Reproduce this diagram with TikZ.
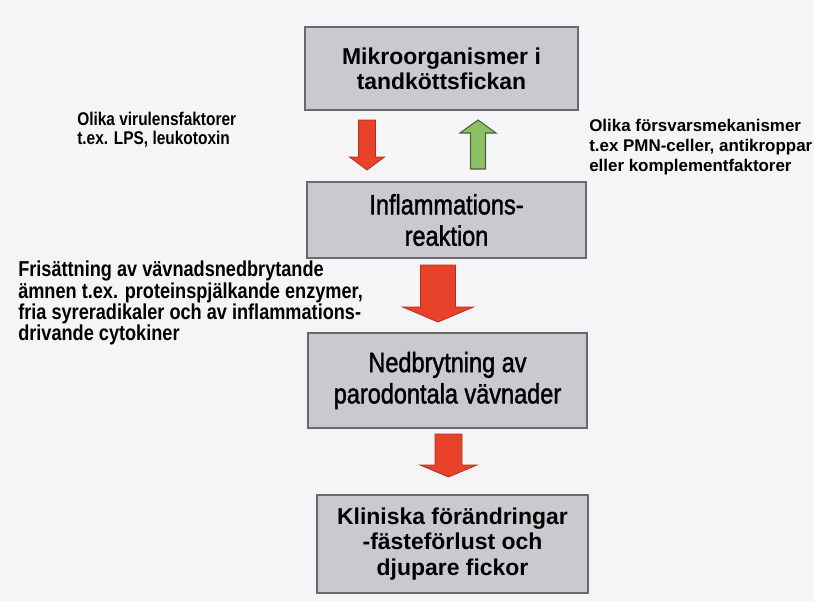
\documentclass[tikz,border=0pt]{standalone}
\usepackage{fontspec}
\setmainfont{Liberation Sans}
\newfontfamily\condfont[FakeStretch=0.84]{Liberation Sans}
\newfontfamily\condmed[FakeStretch=0.84, FakeBold=1.4]{Liberation Sans}
\usetikzlibrary{calc}
\definecolor{boxgray}{RGB}{201,201,207}
\definecolor{boxedge}{RGB}{105,105,108}
\definecolor{arrred}{RGB}{232,66,42}
\definecolor{arrrededge}{RGB}{175,48,32}
\definecolor{arrgreen}{RGB}{141,192,99}
\definecolor{arrgreenedge}{RGB}{72,100,58}
\definecolor{paper}{RGB}{245,245,247}
\def\px{0.75pt}
\tikzset{
    stage/.style={
        rectangle, draw=boxedge, line width=1.1pt, fill=boxgray,
        align=center, inner sep=0pt
    },
    stagebold/.style={stage, font=\bfseries\fontsize{17.2}{19}\selectfont},
    stagecond/.style={stage, font=\condmed\fontsize{21}{23.5}\selectfont},
    note/.style={anchor=north west, inner sep=0pt, align=left},
    harm/.style={fill=arrred, draw=arrrededge, line width=0.6pt, line join=miter},
    defence/.style={fill=arrgreen, draw=arrgreenedge, line width=0.8pt, line join=miter}
}
% block arrow: [style]{from}{tip}{shaft half width}{head half width}{head length}
\newcommand{\blockarrow}[6][]{%
    \coordinate (hb) at ($(#3)!#6!(#2)$);
    \draw[#1] ($(#2)+(-#4,0)$) -- ($(hb)+(-#4,0)$) -- ($(hb)+(-#5,0)$) -- (#3)
        -- ($(hb)+(#5,0)$) -- ($(hb)+(#4,0)$) -- ($(#2)+(#4,0)$) -- cycle;
}

\begin{document}
\begin{tikzpicture}[x=0.75pt, y=-0.75pt]

\fill[paper] (0,0) rectangle (814,601);
\useasboundingbox (0,0) rectangle (814,601);

%% the four stages, top to bottom
\node[stagebold, minimum width=273*\px, minimum height=83*\px] (microbes)  at (441.5, 68.5)
    {Mikroorganismer i\\tandköttsfickan};
\node[stagecond, minimum width=279*\px, minimum height=76*\px] (inflam)    at (446.5, 220)
    {Inflammations-\\reaktion};
\node[stagecond, minimum width=279*\px, minimum height=95*\px] (breakdown) at (447.5, 380.5)
    {Nedbrytning av\\parodontala vävnader};
\node[stagebold, minimum width=271*\px, minimum height=98*\px] (clinical)  at (452.5, 544)
    {Kliniska förändringar\\-fästeförlust och\\djupare fickor};

%% side texts
\node[note, font=\condfont\bfseries\fontsize{13.8}{14.5}\selectfont] (virulence) at (77, 112)
    {Olika virulensfaktorer\\t.ex. LPS, leukotoxin};
\node[note, font=\bfseries\fontsize{12.7}{15}\selectfont] (defences) at (589, 119)
    {Olika försvarsmekanismer\\t.ex PMN-celler, antikroppar\\eller komplementfaktorer};
\node[note, font=\condfont\bfseries\fontsize{16.2}{16}\selectfont] (release) at (18, 261)
    {Frisättning av vävnadsnedbrytande\\ämnen t.ex. proteinspjälkande enzymer,\\fria syreradikaler och av inflammations-\\drivande cytokiner};

%% arrow ends
\coordinate (virS) at (367, 120);   \coordinate (virT) at (367, 170);
\coordinate (defS) at (478, 169);   \coordinate (defT) at (478, 120);
\coordinate (relS) at (438, 265);   \coordinate (relT) at (438, 322);
\coordinate (cliS) at (448.5, 434); \coordinate (cliT) at (448.5, 477);

%% microbes <-> inflammation
\blockarrow[harm]{virS}{virT}{8.5}{17.5}{13*\px}
\blockarrow[defence]{defS}{defT}{7.5}{18}{13*\px}

%% inflammation -> breakdown -> clinical
\blockarrow[harm]{relS}{relT}{17.5}{35.5}{15*\px}
\blockarrow[harm]{cliS}{cliT}{13.5}{28.5}{12*\px}

\end{tikzpicture}
\end{document}
